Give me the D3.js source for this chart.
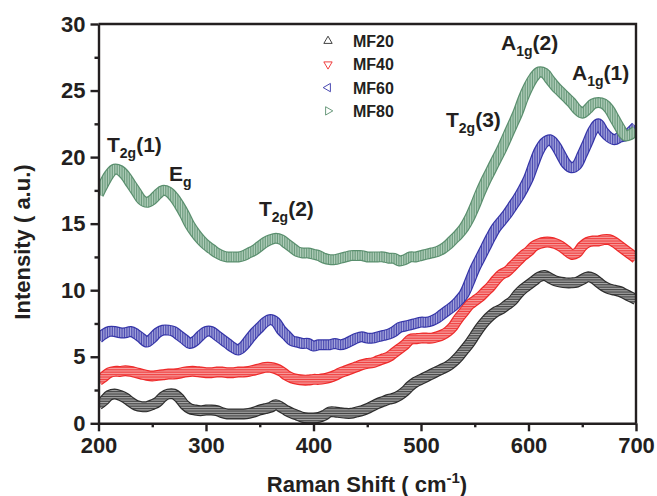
<!DOCTYPE html>
<html>
<head>
<meta charset="utf-8">
<script src="https://cdn.jsdelivr.net/npm/d3@7"></script>
<style>
  body { margin: 0; background: #fff; }
  text { font-family: "Liberation Sans", Arial, sans-serif; font-weight: bold; fill: #231f20; }
</style>
</head>
<body>
<svg id="chart" width="657" height="496"></svg>
<script>
// # DATA
// # ------------------------------
var shift = [200,205,210,215,220,225,230,235,240,245,250,255,260,265,270,275,280,285,290,295,
             300,305,310,315,320,325,330,335,340,345,350,355,360,365,370,375,380,385,390,395,
             400,405,410,415,420,425,430,435,440,445,450,455,460,465,470,475,480,485,490,495,
             500,505,510,515,520,525,530,535,540,545,550,555,560,565,570,575,580,585,590,595,
             600,605,610,615,620,625,630,635,640,645,650,655,660,665,670,675,680,685,690,695,700];

var mf20 = [1.4,1.7,2.1,2.2,2.1,1.9,1.6,1.35,1.25,1.25,1.4,1.6,2.0,2.2,2.2,1.9,1.4,1.1,1.0,0.95,
            1.0,1.0,0.95,0.8,0.7,0.7,0.7,0.7,0.75,0.85,1.0,1.1,1.2,1.4,1.2,0.95,0.75,0.6,0.45,0.4,
            0.4,0.45,0.6,0.85,0.85,0.8,0.75,0.75,0.85,0.95,1.1,1.3,1.5,1.65,1.8,1.9,2.1,2.4,2.8,3.1,
            3.3,3.5,3.7,3.9,4.1,4.3,4.6,5.0,5.5,6.0,6.6,7.2,7.7,8.1,8.4,8.6,8.9,9.2,9.7,10.1,
            10.4,10.7,11.0,11.1,10.9,10.7,10.6,10.55,10.55,10.6,10.8,11.0,10.9,10.6,10.3,10.1,10.0,9.9,9.7,9.5,9.3];

var mf40 = [3.2,3.5,3.8,3.9,3.9,3.95,3.9,3.8,3.7,3.6,3.55,3.6,3.65,3.7,3.7,3.75,3.85,3.9,3.9,3.85,
            3.8,3.8,3.85,3.85,3.8,3.8,3.85,3.85,3.9,4.0,4.1,4.2,4.2,4.1,3.9,3.6,3.4,3.3,3.25,3.25,
            3.3,3.3,3.35,3.45,3.6,3.8,3.95,4.1,4.25,4.4,4.5,4.55,4.7,4.85,5.0,5.3,5.6,5.9,6.3,6.35,
            6.4,6.4,6.4,6.5,6.65,6.9,7.3,7.9,8.4,8.9,9.2,9.5,9.9,10.3,10.8,11.2,11.4,11.8,12.2,12.6,
            12.9,13.3,13.5,13.6,13.6,13.5,13.3,13.0,12.7,12.8,13.3,13.6,13.7,13.7,13.8,13.8,13.6,13.3,13.0,12.7,12.4];

var mf60 = [6.4,6.7,6.9,6.9,6.8,6.8,6.9,6.7,6.4,6.1,6.4,6.8,7.0,7.0,6.9,6.6,6.3,6.0,6.2,6.6,
            6.9,6.9,6.6,6.3,6.0,5.7,5.5,5.8,6.3,6.8,7.2,7.6,7.8,7.6,7.0,6.6,6.2,6.1,6.0,6.0,
            5.8,5.9,5.9,5.9,6.0,5.9,6.0,6.2,6.4,6.5,6.4,6.4,6.5,6.6,6.7,6.9,7.2,7.3,7.4,7.5,
            7.6,7.6,7.7,7.9,8.2,8.5,8.8,9.2,9.7,10.6,11.6,12.4,13.2,14.0,14.7,15.2,15.7,16.3,16.9,17.6,
            18.4,19.5,20.5,21.1,21.3,20.9,20.2,19.5,19.2,19.4,20.2,21.1,22.0,22.5,21.9,21.5,21.3,21.5,21.6,21.9,22.3];

var mf80 = [17.2,18.0,18.7,19.1,19.0,18.6,18.0,17.4,16.8,16.6,16.8,17.2,17.5,17.4,17.0,16.4,15.7,14.9,14.3,13.8,
            13.4,13.1,12.8,12.6,12.5,12.5,12.5,12.6,12.8,13.0,13.3,13.6,13.8,13.9,13.8,13.5,13.2,12.9,12.8,12.8,
            12.7,12.6,12.4,12.3,12.3,12.4,12.5,12.6,12.6,12.6,12.5,12.5,12.5,12.5,12.4,12.4,12.2,12.3,12.5,12.5,
            12.6,12.7,12.8,12.9,13.1,13.4,13.8,14.2,14.7,15.4,16.3,17.3,18.2,19.0,19.8,20.6,21.5,22.4,23.3,24.4,
            25.3,26.0,26.4,26.3,25.8,25.3,24.9,24.5,24.1,23.6,23.3,23.6,24.0,24.1,24.0,23.6,22.9,22.2,21.6,21.7,22.0];

var series_names  = ["MF20", "MF40", "MF60", "MF80"];
var series_values = [mf20, mf40, mf60, mf80];
var series_colors = ["#2e2e2e", "#ee2a2a", "#3535a8", "#5a8f6e"];
var series_tints  = ["#a8a8a8", "#f7a0a0", "#a8a8dc", "#b4d0bd"];
var series_rotate = [0, 180, -90, 90];   // up, down, left, right triangles

var x_ticks = [200, 300, 400, 500, 600, 700];
var y_ticks = [0, 5, 10, 15, 20, 25, 30];

// # SCALES
// # ------------------------------
var svg = d3.select("#chart");
var x = d3.scaleLinear().domain([200, 700]).range([98.5, 636]);
var y = d3.scaleLinear().domain([0, 30]).range([423.3, 24]);

var defs = svg.append("defs");
defs.append("clipPath").attr("id", "plot_clip")
   .append("rect")
   .attr("x", x(200)).attr("y", y(30))
   .attr("width", x(700) - x(200)).attr("height", y(0) - y(30));

// ## hatch patterns (dense triangle markers read as a hatched ribbon)
// # ------------------------------
series_colors.forEach(function(c, s) {
  var vertical = (series_rotate[s] == 90 || series_rotate[s] == -90);
  var p = defs.append("pattern")
     .attr("id", "hatch" + s)
     .attr("patternUnits", "userSpaceOnUse")
     .attr("width", 1.7).attr("height", 1.7);
  p.append("rect").attr("width", 1.7).attr("height", 1.7).attr("fill", series_tints[s]);
  p.append("rect")
     .attr("width", vertical ? 0.7 : 1.7)
     .attr("height", vertical ? 1.7 : 0.7)
     .attr("fill", c);
});

// ## ribbons
// # ------------------------------
var line = d3.line().curve(d3.curveCatmullRom.alpha(0.5));
var plot = svg.append("g").attr("clip-path", "url(#plot_clip)");

series_values.forEach(function(vals, s) {
  var pts = vals.map(function(d, i) { return [x(shift[i]), y(d)]; });
  var g = plot.append("g").attr("class", "series");
  g.append("path")
   .attr("d", line(pts))
   .attr("fill", "none")
   .attr("stroke", series_colors[s])
   .attr("stroke-width", 11)
   .attr("stroke-linejoin", "round");
  g.append("path")
   .attr("d", line(pts))
   .attr("fill", "none")
   .attr("stroke", "url(#hatch" + s + ")")
   .attr("stroke-width", 8.6)
   .attr("stroke-linejoin", "round");
});

// ## axes
// # ------------------------------
var minor_x = [250, 350, 450, 550, 650];
var minor_y = [2.5, 7.5, 12.5, 17.5, 22.5, 27.5];

var gx = svg.append("g").attr("transform", "translate(0," + y(0) + ")");
gx.call(d3.axisBottom(x).tickValues(x_ticks).tickSize(8).tickPadding(6).tickSizeOuter(0));
gx.call(function(g) {
  g.append("g").call(d3.axisBottom(x).tickValues(minor_x).tickSize(4).tickFormat("").tickSizeOuter(0))
   .select(".domain").remove();
});

var gy = svg.append("g").attr("transform", "translate(" + x(200) + ",0)");
gy.call(d3.axisLeft(y).tickValues(y_ticks).tickSize(8).tickPadding(5).tickSizeOuter(0));
gy.call(function(g) {
  g.append("g").call(d3.axisLeft(y).tickValues(minor_y).tickSize(4).tickFormat("").tickSizeOuter(0))
   .select(".domain").remove();
});

svg.selectAll(".domain, .tick line").attr("stroke", "#231f20").attr("stroke-width", 2.4);
svg.selectAll(".tick text")
   .attr("font-family", "'Liberation Sans', Arial, sans-serif")
   .attr("font-weight", "bold")
   .attr("font-size", 22)
   .attr("fill", "#231f20");

// top / right frame
svg.append("path")
   .attr("d", "M" + x(200) + "," + y(30) + "H" + x(700) + "V" + y(0))
   .attr("fill", "none")
   .attr("stroke", "#231f20")
   .attr("stroke-width", 2.4);

// ## titles
// # ------------------------------
var xt = svg.append("text")
   .attr("x", 367).attr("y", 492)
   .attr("text-anchor", "middle")
   .attr("font-size", 22);
xt.append("tspan").text("Raman Shift ( cm");
xt.append("tspan").attr("font-size", 15).attr("dy", -9).text("-1");
xt.append("tspan").attr("dy", 9).text(")");

svg.append("text")
   .attr("transform", "translate(30,242) rotate(-90)")
   .attr("text-anchor", "middle")
   .attr("font-size", 22)
   .text("Intensity ( a.u.)");

// ## legend
// # ------------------------------
var leg = svg.append("g").attr("transform", "translate(328,41)");
series_names.forEach(function(name, s) {
  var row = leg.append("g").attr("transform", "translate(0," + (s * 23.3) + ")");
  row.append("path")
     .attr("d", d3.symbol().type(d3.symbolTriangle).size(30))
     .attr("transform", "rotate(" + series_rotate[s] + ")")
     .attr("fill", "none")
     .attr("stroke", series_colors[s])
     .attr("stroke-width", 0.9);
  row.append("text")
     .attr("x", 25).attr("y", 6)
     .attr("font-size", 16)
     .text(name);
});

// ## peak labels
// # ------------------------------
var peak_labels = [
  {main: "T", sub: "2g", tail: "(1)", x: 107, y: 152},
  {main: "E", sub: "g",  tail: "",    x: 169, y: 181},
  {main: "T", sub: "2g", tail: "(2)", x: 259, y: 216},
  {main: "T", sub: "2g", tail: "(3)", x: 446, y: 127},
  {main: "A", sub: "1g", tail: "(2)", x: 501, y: 50},
  {main: "A", sub: "1g", tail: "(1)", x: 572, y: 80}
];

peak_labels.forEach(function(p) {
  var t = svg.append("text").attr("x", p.x).attr("y", p.y).attr("font-size", 21);
  t.append("tspan").text(p.main);
  t.append("tspan").attr("font-size", 14).attr("dy", 6).text(p.sub);
  if (p.tail != "") t.append("tspan").attr("dy", -6).text(p.tail);
});
</script>
</body>
</html>
